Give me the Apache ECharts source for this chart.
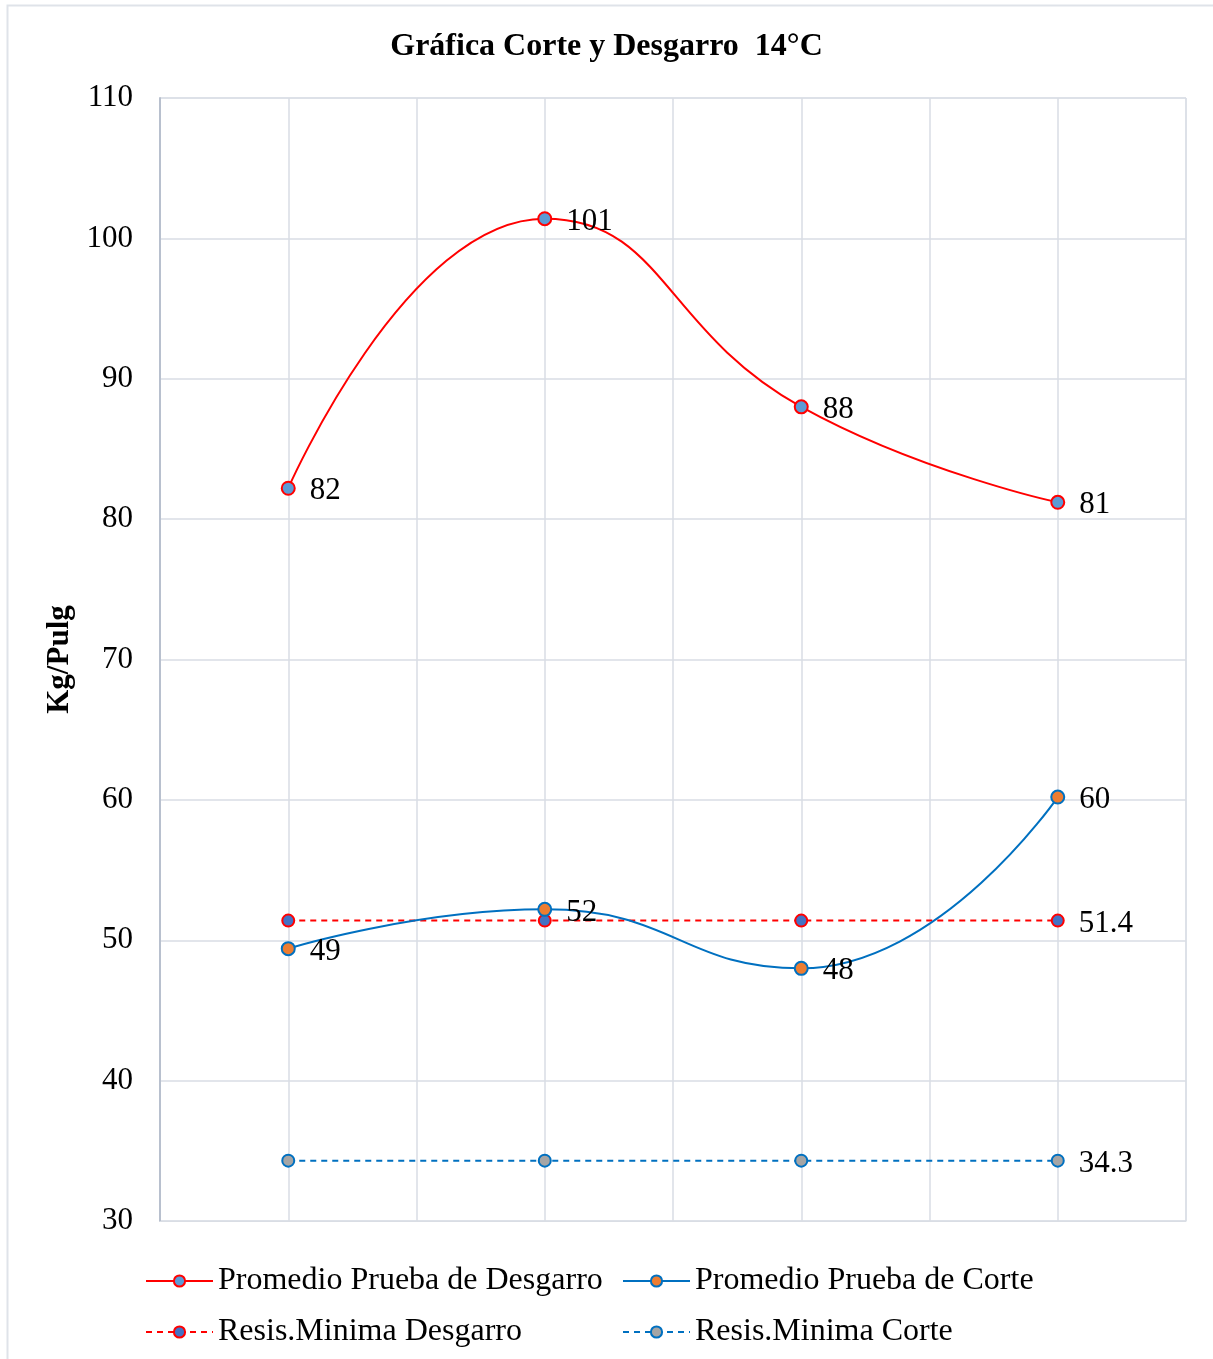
<!DOCTYPE html>
<html>
<head>
<meta charset="utf-8">
<script src="https://cdn.jsdelivr.net/npm/echarts@6/dist/echarts.min.js"></script>
<style>
html,body{margin:0;padding:0;background:#fff;}
#c{width:1213px;height:1359px;}
</style>
</head>
<body>
<div id="c"></div>
<script>
var categories = ['1', '2', '3', '4'];
var promedioDesgarro = [82.2, 101.4, 88.0, 81.2];
var promedioCorte = [49.4, 52.2, 48.0, 60.2];
var resisDesgarro = [51.4, 51.4, 51.4, 51.4];
var resisCorte = [34.3, 34.3, 34.3, 34.3];
var yTicks = [30, 40, 50, 60, 70, 80, 90, 100, 110];

var FONT = '"Liberation Serif", "Times New Roman", serif';
function pts(arr) { return arr.map(function (v, i) { return [2 * i + 1, v]; }); }

var chart = echarts.init(document.getElementById('c'));
var lastIdx = categories.length - 1;

function mkSeries(name, data, lineColor, dashed, fill, border, size, labelMode) {
  return {
    name: name,
    type: 'line',
    smooth: dashed ? false : 0.5,
    data: pts(data),
    symbol: 'circle',
    symbolSize: size,
    lineStyle: { color: lineColor, width: 2, type: dashed ? [6, 5] : 'solid' },
    itemStyle: { color: fill, borderColor: border, borderWidth: 2 },
    label: {
      show: true,
      position: 'right',
      distance: 14,
      offset: [0, 3],
      color: '#000',
      fontFamily: FONT,
      fontSize: 31,
      formatter: function (p) {
        if (labelMode === 'round') return String(Math.round(p.value[1]));
        return p.dataIndex === lastIdx ? String(p.value[1]) : '';
      }
    },
    emphasis: { disabled: true },
    z: dashed ? 2 : 3
  };
}

chart.setOption({
  animation: false,
  backgroundColor: '#fff',
  title: {
    text: 'Gráfica Corte y Desgarro  14°C',
    left: 'center',
    top: 26,
    textStyle: { fontFamily: FONT, fontSize: 32, fontWeight: 'bold', color: '#000' }
  },
  graphic: [{
    type: 'rect',
    shape: { x: 7.5, y: 5.5, width: 1230, height: 1400 },
    style: { fill: 'none', stroke: '#dfe3e9', lineWidth: 2 },
    silent: true
  }],
  grid: { left: 160, right: 27, top: 98, bottom: 138, show: true, borderColor: '#d9dde4', borderWidth: 1 },
  legend: [{
    left: 140, top: 1260, orient: 'vertical', itemGap: 19,
    itemWidth: 67, itemHeight: 14,
    textStyle: { fontFamily: FONT, fontSize: 32, color: '#000' },
    data: ['Promedio Prueba de Desgarro', 'Resis.Minima Desgarro']
  }, {
    left: 617, top: 1260, orient: 'vertical', itemGap: 19,
    itemWidth: 67, itemHeight: 14,
    textStyle: { fontFamily: FONT, fontSize: 32, color: '#000' },
    data: ['Promedio Prueba de Corte', 'Resis.Minima Corte']
  }],
  xAxis: {
    type: 'value', min: 0, max: 2 * categories.length, interval: 1,
    axisLine: { show: true, lineStyle: { color: '#d9dde4' } },
    axisTick: { show: false },
    axisLabel: { show: false },
    splitLine: { show: true, lineStyle: { color: '#d9dde4', width: 1.5 } }
  },
  yAxis: {
    type: 'value', min: yTicks[0], max: yTicks[yTicks.length - 1], interval: 10,
    name: 'Kg/Pulg', nameLocation: 'middle', nameGap: 84, nameRotate: 90,
    nameTextStyle: { fontFamily: FONT, fontSize: 31, fontWeight: 'bold', color: '#000' },
    axisLine: { show: true, lineStyle: { color: '#b8c0ce', width: 2 } },
    axisTick: { show: false },
    axisLabel: { margin: 27, color: '#000', fontFamily: FONT, fontSize: 31 },
    splitLine: { show: true, lineStyle: { color: '#d9dde4', width: 1.5 } }
  },
  series: [
    mkSeries('Promedio Prueba de Desgarro', promedioDesgarro, '#ff0000', false, '#5b9bd5', '#ff0000', 13, 'round'),
    mkSeries('Promedio Prueba de Corte', promedioCorte, '#0070c0', false, '#ed7d31', '#0070c0', 13, 'round'),
    mkSeries('Resis.Minima Desgarro', resisDesgarro, '#ff0000', true, '#4472c4', '#ff0000', 12, 'last'),
    mkSeries('Resis.Minima Corte', resisCorte, '#0070c0', true, '#a5a5a5', '#0070c0', 12, 'last')
  ]
});
</script>
</body>
</html>
